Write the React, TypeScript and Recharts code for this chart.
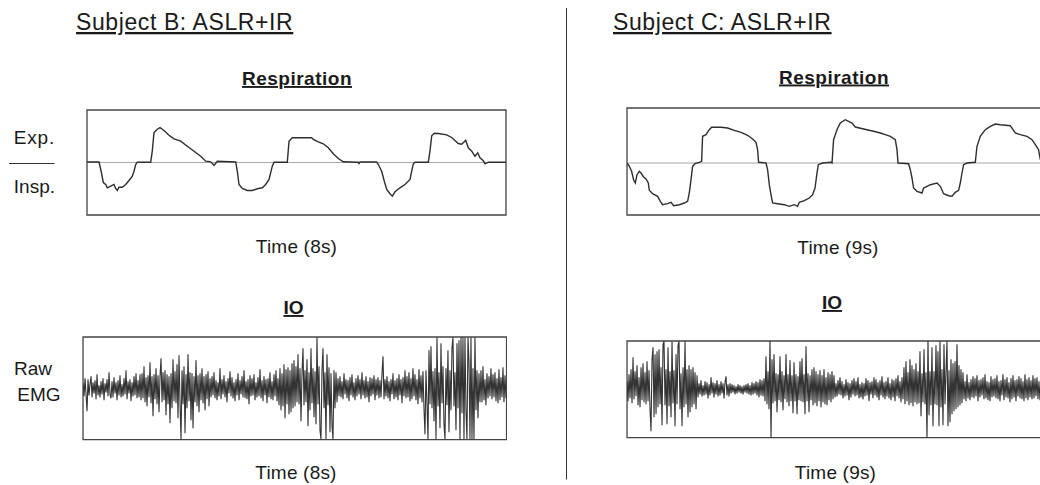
import React from 'react';
import { LineChart, Line, XAxis, YAxis, ReferenceLine, ReferenceArea } from 'recharts';

const FONT = '"Liberation Sans", Arial, Helvetica, sans-serif';

// Subject B respiration (x in samples across the 8 s window, y: + = expiration)
const respBTime = [0,12,14,16.3,18.7,20.3,23.7,27,28.7,30.3,32,35.3,38.7,42,45.3,47,48.7,50.3,63.7,65.3,67,70.3,73,77,82,87,93.7,100.3,107,113.7,118.7,123.7,127,130.3,148.7,150.3,152,155.3,160.3,165.3,170.3,175.3,178.7,182,185.3,187,200.3,202,205.3,208,224.7,226.3,231.3,236.3,241.3,246.3,251.3,256.3,271,272,273,289.7,291.3,294.7,297.3,299.7,303,305.3,308,313,318,323,324.7,326.3,328,341.3,343,344.7,347.3,351.3,359.7,364.7,371.3,374.7,378.7,381.3,384.7,388,390.7,393,396.3,398,401.3,419];
const respBValue = [0.5,0.5,-8,-20,-22,-25.3,-23.7,-22,-26,-28,-24.7,-24.7,-22,-18,-13.7,-8.7,-2,0.3,0.3,11.7,30,33.3,35,32,27.3,23.7,21.3,16.3,11.3,6.3,1.3,0.7,-3,1.3,0.5,-8.7,-22,-26,-28,-28,-26.3,-25.3,-22,-17,-3.7,0.3,0.3,21.3,24.7,24.7,24.7,23,20.7,18.7,14.7,8.7,4,0.7,0.3,-1,0.5,0.5,-2,-8.7,-18.7,-27,-31.3,-33.7,-29.3,-25.3,-22,-17,-8.7,-1.3,0.3,0.3,11.7,26.7,29.3,29,27.7,25,19,18.3,22.3,14.7,11.3,6.3,9.7,4.7,1.7,-1.3,0.3,0.3];

// Subject C respiration (9 s window)
const respCTime = [0,2.3,4.6,6.6,8.3,10,12.3,14,16.6,19,21.3,22.3,25.6,30.6,33.3,35.6,40.6,44,46.6,52.3,57.3,60.6,62.3,64,65.6,68,72.3,74.6,75.6,79,82.3,84.6,94,100.6,107.3,114,120.6,125.6,129,130.6,131.6,139,140.6,142.3,144,145.6,150.6,157.3,162.3,167.3,170.6,172.3,177.3,182.3,185.6,188,190,191.3,195.6,204,205,206.6,210,213.3,218.3,221.6,225,228.3,236.6,246.6,253.3,258.3,263.3,268.3,270,271,281.6,283.3,285,286.6,290,295,296.6,300,303.3,310,313.3,316.6,321.6,325,328.3,331.6,333.3,335,336.6,340,348.3,350,353.3,358.3,363.3,368.3,373.3,383.3,388.3,393.3,400,405,408.3,411.6,413.3];
const respCValue = [0,-3.3,-8.3,-16.7,-20,-11.7,-8.3,-10,-14,-16,-20,-27.3,-30.7,-33.3,-38.3,-41.7,-40.7,-39.3,-42.7,-41.7,-40,-38.3,-30,-16.7,-3.3,-0.7,0.7,1.7,26.7,28.3,33.3,35.7,35.7,35,32.7,30.7,27.7,24,20.7,13.3,0.7,0,-6.7,-21.7,-31.7,-40,-40.7,-41.7,-43.3,-41.7,-43.3,-39.3,-37.7,-35,-31.7,-25,-10,-1.7,0,0.7,0,23.3,33.3,40,43.3,41.7,40,36,34,31.7,30,28.3,26.7,23.3,13.3,0,-0.7,-6.7,-15,-25,-28.3,-30,-25,-23.3,-21.7,-20,-23.3,-30.7,-32.7,-33.3,-29.3,-27.3,-20,-10,-1.7,0,0.7,16.7,26.7,33.3,36.7,39,38.3,37.3,30,28.3,26.7,23.3,18.3,13.3,3.3];

// Subject B raw IO EMG (one value per sample)
const emgB = [
  5,-8,10,-6,-23,9,-7,4,12,-9, 6,-5,8,-11,14,-7,3,-9,7,-6, 10,-12,5,-4,9,-8,16,-6,-10,7, -9,11,-5,6,-12,8,-7,13,-9,4, -8,10,-6,18,-11,7,-5,9,-13,6, -8,12,-7,15,-10,8,-9,14,
  -12,15,-10,22,-14,11,-18,13,-9,26, -15,12,-28,14,-11,20,-16,13,-24,12, 30,-14,16,-12,18,-27,14,-16,12,-35, 15,-20,29,-13,17,-15,24,-30,33,-14,
  -51,18,-16,22,-45,14,-20,34,-13,16, -32,15,-40,12,-14,28,-18,13,-24,15, -12,20,-15,12,-22,14,-11,17,-18,10,
  -9,12,-7,16,-10,8,-12,6,-8,20, -11,9,-6,13,-9,7,-14,10,-5,17, -8,11,-10,6,-13,9,-7,15,-12,8, -6,12,-9,18,-10,7,-11,9,-16,13,
  -8,10,-7,14,-12,6,-9,11,-8,19, -10,8,-13,12,-7,9,-15,10,-9,16, -11,7,-12,14,-8,18,-13,10,-17,20,
  -22,15,-18,24,-30,19,-16,21,-26,18,-24,25,-20,28,
  -18,22,-14,34,-16,20,-33,15,40,-17, 18,-14,29,-38,16,-22,40,-15,20,-29, 17,-36,51,-16,22,-42,-51,18,40,-20, 16,-51,34,-17,21,-44,15,-37,-51,18, -20,16,
  -14,10,-8,12,-9,7,-11,15,-6,9, -10,8,-13,11,-7,14,-9,6,-12,10, -8,13,-6,9,-11,16,-7,8,-10,12, -9,7,-14,11,-8,10,-6,13,-12,9,
  -7,11,-10,8,-9,14,32,-11,9,-8, 12,-10,7,-13,9,-6,15,-11,8,-9, 10,-12,14,-7,9,-15,11,-8,18,-10, 12,-9,16,-13,10,-11,20,-8,14,-12, 9,-16,19,-10,13,-14,17,-20,
  -46,18,-15,-51,38,-16,42,-20,17,-33, 20,-51,51,-18,16,-40,45,-15,22,-36, -51,20,-17,38,-44,18,-22,40,51,-18, 16,-42,45,-20,48,-51,51,-25,51,-51,
  51,-22,-51,51,26,-51,51,-51,20,-51, 51,-22,18,-30,15,-14,
  18,-14,22,-12,9,-17,15,-10,12,-8, 20,-11,14,-9,16,-13,10,-15,19,-12, 11,-9,21,-14,13,-10,
];

// Subject C raw IO EMG
const emgC = [
  8,-12,15,-9,20,-14,32,-10,18,-7,24,-16,12,-18,22,-11,26,-13,17,-15,28,-12,19,
  -20,-42,30,42,-28,35,-25,38,
  -18,40,-15,22,-36,45,48,-16,20,-35, 42,-17,18,-28,48,-14,19,-37,35,-15, 44,48,-20,16,-37,22,-18,48,-15,20,
  -28,24,-23,20,-18,22,-15,17,-20,14,
  -8,6,-5,9,-7,4,-6,8,-5,7, -9,5,-6,12,-4,7,-8,6,-5,9, -7,5,-6,8,-4,6,-9,7,13,-6, 5,-7,6,-4,5,-3,4,-5,3,-4,
  5,-3,4,-4,3,-5,4,-3,5,-4, 6,-5,4,-6,7,-5,6,-4,8,-6, 7,-8,10,-6,9,-7,11,
  -12,33,-15,18,-20,51,-51,
  30,-14,35,-12,16,-23,15,-11,33,-13, 18,-21,14,-10,35,-13,15,-17,29,-12,
  14,-24,27,-12,15,-25,13,-11,28,-12, 31,-13,15,-25,43,-12,16,-23,14,-11,
  20,-16,22,-14,18,-17,15,-12,19,-18, 14,-13,20,-15,12,-16,17,-11,15,-13, 18,-10,14,
  -8,6,-7,9,-5,12,-6,8,-9,5, -7,10,-6,7,-11,6,-8,9,-5,11, -7,8,-6,12,-9,5,-8,7,-10,6, -7,11,-6,9,-12,7,-5,8,-9,12,
  -6,10,-8,7,-11,9,-6,13,-8,7, -10,8,-7,12,-9,6,-11,10,-8,9, -12,11,-7,14,-9,8,-13,12,-10,
  22,-15,28,-12,17,-16,30,-14,24,-17,20,-13,26,-15,
  18,-14,38,-27,16,-13,40,-15,17,-51,51,-26,18,
  -16,42,-37,18,-15,44,-16,38,-37,48, -18,20,-36,45,-15,17,48,-37,19,-33,
  30,-25,26,-22,28,-20,45,-18,24,-16,20,-14,17,
  -10,8,-12,15,-9,7,-11,10,-8,13, -9,11,-7,14,-12,9,-8,10,-6,12, -10,15,-9,8,-11,7,-12,13,-8,10, -7,11,-9,14,-10,8,-12,9,-6,15,
  -11,10,-8,12,-9,7,-13,11,-10,14, -8,9,-12,10,-7,13,-9,11,-10,8, -12,15,-9,10,-11,12,-8,9,-10,14, -9,11,-7,12,-10,8,-11,13,
];

type PanelProps = {
  left: number; top: number; width: number; height: number;
  time: number[]; values: number[];
  xMax: number; yMin: number; yMax: number;
  baseline?: boolean; strokeWidth: number; color: string;
};

function Panel(p: PanelProps) {
  const data = p.time.map((t, i) => ({ t, v: p.values[i] }));
  return (
    <div style={{ position: 'absolute', left: p.left - 1, top: p.top - 1 }}>
      <LineChart width={p.width + 2} height={p.height + 2} data={data} margin={{ top: 1, right: 1, bottom: 1, left: 1 }}>
        <XAxis type="number" dataKey="t" domain={[0, p.xMax]} hide allowDataOverflow />
        <YAxis type="number" domain={[p.yMin, p.yMax]} hide allowDataOverflow />
        {p.baseline && <ReferenceLine y={0} stroke="#a8a8a8" strokeWidth={1} />}
        <Line dataKey="v" type="linear" stroke={p.color} strokeWidth={p.strokeWidth} dot={false} activeDot={false} isAnimationActive={false} />
        <ReferenceArea x1={0} x2={p.xMax} y1={p.yMin} y2={p.yMax} fill="none" fillOpacity={0} stroke="#444444" strokeWidth={1.3} ifOverflow="visible" />
      </LineChart>
    </div>
  );
}

const txt = { fontFamily: FONT, fill: '#1a1a1a' } as const;

export default function App() {
  const emgBTime = emgB.map((_, i) => i);
  const emgCTime = emgC.map((_, i) => i);
  return (
    <div style={{ position: 'absolute', left: 0, top: 0, width: 1040, height: 485, overflow: 'hidden', background: '#fff' }}>
      <svg width={1040} height={485} style={{ position: 'absolute', left: 0, top: 0 }}>
        <text x={76} y={30} fontSize={23} letterSpacing={0.6} textDecoration="underline" {...txt}>Subject B: ASLR+IR</text>
        <text x={613} y={30} fontSize={23} letterSpacing={0.6} textDecoration="underline" {...txt}>Subject C: ASLR+IR</text>
        <text x={297} y={85} fontSize={19} fontWeight="bold" letterSpacing={0.5} textAnchor="middle" textDecoration="underline" {...txt}>Respiration</text>
        <text x={834} y={83.5} fontSize={19} fontWeight="bold" letterSpacing={0.5} textAnchor="middle" textDecoration="underline" {...txt}>Respiration</text>
        <text x={296.5} y={252.5} fontSize={19} letterSpacing={0.2} textAnchor="middle" {...txt}>Time (8s)</text>
        <text x={838} y={254} fontSize={19} letterSpacing={0.2} textAnchor="middle" {...txt}>Time (9s)</text>
        <text x={293.5} y={314} fontSize={19} fontWeight="bold" textAnchor="middle" textDecoration="underline" {...txt}>IO</text>
        <text x={832} y={309} fontSize={19} fontWeight="bold" textAnchor="middle" textDecoration="underline" {...txt}>IO</text>
        <text x={296} y={479} fontSize={19} letterSpacing={0.2} textAnchor="middle" {...txt}>Time (8s)</text>
        <text x={835.5} y={479} fontSize={19} letterSpacing={0.2} textAnchor="middle" {...txt}>Time (9s)</text>
        <text x={55} y={143.5} fontSize={19} textAnchor="end" letterSpacing={0.8} {...txt}>Exp.</text>
        <text x={55} y={192.5} fontSize={19} textAnchor="end" {...txt}>Insp.</text>
        <line x1={9} x2={54.5} y1={163.5} y2={163.5} stroke="#333" strokeWidth={1} />
        <text x={33} y={375} fontSize={19} textAnchor="middle" {...txt}>Raw</text>
        <text x={39} y={400.5} fontSize={19} textAnchor="middle" {...txt}>EMG</text>
        <line x1={566.5} x2={566.5} y1={8} y2={479.5} stroke="#333" strokeWidth={1} />
      </svg>
      <Panel left={87} top={110} width={419} height={105} time={respBTime} values={respBValue} xMax={419} yMin={-52.5} yMax={52.5} baseline strokeWidth={1.4} color="#2e2e2e" />
      <Panel left={626.7} top={108} width={415} height={107} time={respCTime} values={respCValue} xMax={415} yMin={-52} yMax={55} baseline strokeWidth={1.4} color="#2e2e2e" />
      <Panel left={82.7} top={337.3} width={423.6} height={102.7} time={emgBTime} values={emgB} xMax={423.6} yMin={-51.35} yMax={51.35} strokeWidth={1.1} color="#333333" />
      <Panel left={626.7} top={341} width={414.5} height={96.7} time={emgCTime} values={emgC} xMax={414.5} yMin={-48.35} yMax={48.35} strokeWidth={1.1} color="#333333" />
    </div>
  );
}
